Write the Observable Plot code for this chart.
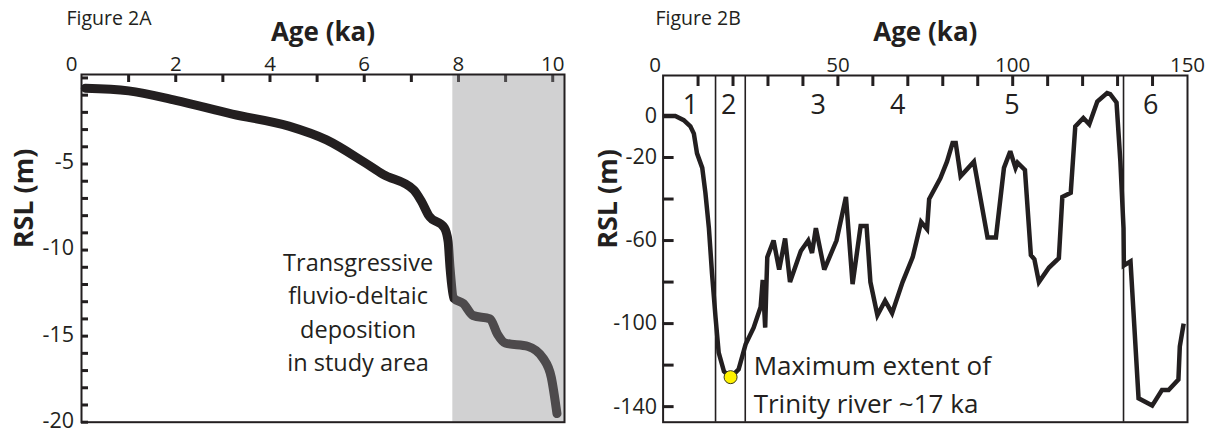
<!DOCTYPE html>
<html><head><meta charset="utf-8">
<script src="https://cdn.jsdelivr.net/npm/d3@7"></script>
<script src="https://cdn.jsdelivr.net/npm/@observablehq/plot@0.6"></script>
<style>
body{margin:0;background:#fff;width:1217px;height:432px;overflow:hidden;font-family:"Open Sans",sans-serif}
#wrap{position:relative;width:1217px;height:432px}
#a,#b{position:absolute;top:0}
#a{left:0}#b{left:600px}
svg{overflow:visible}
</style></head><body><div id="wrap"><div id="a"></div><div id="b"></div></div>
<script>
// ---------- Figure 2A data ----------
const ageA = [0.08,1.0,2.0,3.2,4.4,5.2,6.0,6.4,7.05,7.21,7.37,7.70,7.78,7.82,7.90,8.10,8.31,8.67,8.83,8.99,9.48,9.80,9.97,10.09];
const rslA = [-0.6,-0.75,-1.3,-2.1,-2.8,-3.6,-4.9,-5.6,-6.5,-7.15,-8.0,-8.7,-9.5,-11.0,-12.8,-13.1,-13.8,-14.0,-14.9,-15.4,-15.6,-16.3,-17.4,-19.5];
const xLabelsA = [0,2,4,6,8,10];
const xTicksA = [1,2,3,4,5,6,7,8,9,10];
const yLabelsA = [-5,-10,-15,-20];
const yTicksA = [0,-1,-2,-3,-4,-5,-6,-7,-8,-9,-10,-11,-12,-13,-14,-15,-16,-17,-18,-19,-20];
const depositionStart = [7.88];
const depositionEnd = [10.25];
const noteA = ["Transgressive\nfluvio-deltaic\ndeposition\nin study area"];
const noteAAge = [5.87];
const noteARsl = [-13.5];

// ---------- Figure 2B data ----------
const ageB = [0,3.5,5.9,7.8,8.8,9.7,11.2,12.1,13.1,14,15,15.9,17.4,19.3,21.6,23.6,25.9,27.9,28.5,29.2,29.5,29.8,31.6,33.2,34.9,36.3,39.4,41.5,42.6,43.7,46.1,49.6,52.3,54.2,56.5,58.2,59.3,61.3,63.5,65.5,68.5,71.4,73.8,75.5,76.1,79.3,81.2,82.8,83.7,85.1,88.9,92.8,95.2,97.5,99.3,100.8,101.4,103.5,105.2,106.2,107.5,110.4,113.2,114.2,116.6,117.9,120.2,121.9,124.2,127,127.9,129.7,130.8,131.7,131.8,133.7,136,139.9,142.7,144.6,147.4,147.8,148.9];
const rslB = [0,0,-2,-5,-8.5,-18,-25,-37,-54,-76,-97,-114,-123,-126,-122,-110,-102,-92,-79,-102,-84,-68,-60,-74,-59,-80,-65,-60,-66,-54,-74,-60,-39,-81,-53,-53,-80,-96,-89,-95,-80,-68,-51,-54.5,-40,-30,-22,-13,-13,-29,-22,-58.5,-58.5,-25,-17,-25,-22.5,-26,-67,-69,-80,-73,-68.5,-39,-37,-5,-1,-4,7,11,10.5,6.5,-22,-54,-72,-70,-136,-139.5,-132,-132,-127,-111,-100];
const xLabelsB = [0,50,100,150];
const xTicksB = [10,20,30,40,50,60,70,80,90,100,110,120,130,140];
const yLabelsB = [0,-20,-60,-100,-140];
const yTicksB = [0,-20,-40,-60,-80,-100,-120,-140];
const stageBounds = [15,23.5,131.7];
const stageNames = ["1","2","3","4","5","6"];
const stageAge = [7.8,18.8,44.4,67.1,99.8,139.5];
const maxAge = [19.3];
const maxRsl = [-125.8];
const noteB = ["Maximum extent of\nTrinity river ~17 ka"];
const noteBAge = [25.9];
const noteBRsl = [-128];

const ink = "#231f20";
const font = '"Open Sans", sans-serif';

// ---------- Panel A ----------
const WA = 600, HA = 432, mlA = 81, mrA = 36, mtA = 74, mbA = 10.3;
const fwA = WA - mlA - mrA, fhA = HA - mtA - mbA;
const dataA = ageA.map((a, i) => ({age: a, rsl: rslA[i]}));
const shade = depositionStart.map((s, i) => ({x1: s, x2: depositionEnd[i]}));

const plotA = Plot.plot({
  width: WA, height: HA,
  marginLeft: mlA, marginRight: mrA, marginTop: mtA, marginBottom: mbA,
  style: {fontFamily: font, background: "transparent", overflow: "visible", color: ink},
  x: {domain: [0, 10.25], axis: null},
  y: {domain: [-20, 0.2], axis: null},
  marks: [
    Plot.line(dataA, {x: "age", y: "rsl", stroke: ink, strokeWidth: 9, curve: "monotone-x", strokeLinecap: "round", strokeLinejoin: "round"}),
    Plot.tickX(xTicksA, {x: d => d, stroke: ink, strokeWidth: 3, insetBottom: fhA - 8}),
    Plot.tickY(yTicksA, {y: d => d, stroke: ink, strokeWidth: 3, insetRight: fwA - 7}),
    Plot.rect(shade, {x1: "x1", x2: "x2", fill: "#8b8d8f", fillOpacity: 0.4}),
    Plot.frame({stroke: ink, strokeWidth: 2}),
    Plot.text(xLabelsA.filter(d => d !== 0), {x: d => d, text: d => String(d), frameAnchor: "top", lineAnchor: "bottom", dy: -4, fontSize: 20.5, fill: ink}),
    Plot.text(xLabelsA.filter(d => d === 0), {x: d => d, text: d => String(d), frameAnchor: "top", lineAnchor: "bottom", dy: -4, dx: -10, fontSize: 20.5, fill: ink}),
    Plot.text(yLabelsA, {y: d => d, text: d => String(d), frameAnchor: "left", textAnchor: "end", lineAnchor: "middle", dx: -7.5, dy: -1.5, fontSize: 21.5, fill: ink}),
    Plot.text(["Age (ka)"], {frameAnchor: "top", dy: -42, lineAnchor: "middle", fontSize: 26, fontWeight: "bold", fill: ink}),
    Plot.text(["Figure 2A"], {frameAnchor: "top-left", textAnchor: "start", lineAnchor: "middle", dx: -15, dy: -56, fontSize: 19.5, fill: ink}),
    Plot.text(["RSL (m)"], {frameAnchor: "left", rotate: -90, dx: -57, lineAnchor: "middle", fontSize: 27, fontWeight: "bold", fill: ink}),
    Plot.text(noteA, {x: () => noteAAge[0], y: () => noteARsl[0], lineAnchor: "middle", lineHeight: 1.42, fontSize: 23.5, fill: ink})
  ]
});
document.getElementById("a").append(plotA);

// ---------- Panel B ----------
const WB = 617, HB = 432, mlB = 62.6, mrB = 30, mtB = 75, mbB = 10.3;
const fwB = WB - mlB - mrB, fhB = HB - mtB - mbB;
const dataB = ageB.map((a, i) => ({age: a, rsl: rslB[i]}));
const stages = stageNames.map((n, i) => ({name: n, age: stageAge[i]}));
const maxPt = maxAge.map((a, i) => ({age: a, rsl: maxRsl[i]}));

const plotB = Plot.plot({
  width: WB, height: HB,
  marginLeft: mlB, marginRight: mrB, marginTop: mtB, marginBottom: mbB,
  style: {fontFamily: font, background: "transparent", overflow: "visible", color: ink},
  x: {domain: [0, 150], axis: null},
  y: {domain: [-147.5, 19.5], axis: null},
  marks: [
    Plot.ruleX(stageBounds, {x: d => d, stroke: ink, strokeWidth: 1.6}),
    Plot.line(dataB, {x: "age", y: "rsl", stroke: ink, strokeWidth: 4.5, curve: "linear", strokeLinejoin: "miter", strokeMiterlimit: 3, strokeLinecap: "butt"}),
    Plot.tickX(xTicksB, {x: d => d, stroke: ink, strokeWidth: 3, insetBottom: fhB - 11}),
    Plot.tickY(yTicksB, {y: d => d, stroke: ink, strokeWidth: 3, insetRight: fwB - 11}),
    Plot.dot(maxPt, {x: "age", y: "rsl", r: 6.5, fill: "#fff200", stroke: "#3a3a1a", strokeWidth: 1}),
    Plot.frame({stroke: ink, strokeWidth: 2}),
    Plot.text(stages, {x: "age", text: "name", frameAnchor: "top", lineAnchor: "middle", dy: 30, fontSize: 27, fill: ink}),
    Plot.text(xLabelsB.filter(d => d !== 0), {x: d => d, text: d => String(d), frameAnchor: "top", lineAnchor: "bottom", dy: -4, fontSize: 20.5, fill: ink}),
    Plot.text(xLabelsB.filter(d => d === 0), {x: d => d, text: d => String(d), frameAnchor: "top", lineAnchor: "bottom", dy: -4, dx: -8, fontSize: 20.5, fill: ink}),
    Plot.text(yLabelsB, {y: d => d, text: d => String(d), frameAnchor: "left", textAnchor: "end", lineAnchor: "middle", dx: -6, fontSize: 21.5, fill: ink}),
    Plot.text(["Age (ka)"], {frameAnchor: "top", dy: -43, lineAnchor: "middle", fontSize: 26, fontWeight: "bold", fill: ink}),
    Plot.text(["Figure 2B"], {frameAnchor: "top-left", textAnchor: "start", lineAnchor: "middle", dx: -7.6, dy: -57, fontSize: 19.5, fill: ink}),
    Plot.text(["RSL (m)"], {frameAnchor: "left", rotate: -90, dx: -55, lineAnchor: "middle", fontSize: 27, fontWeight: "bold", fill: ink}),
    Plot.text(noteB, {x: () => noteBAge[0], y: () => noteBRsl[0], textAnchor: "start", lineAnchor: "middle", lineHeight: 1.46, fontSize: 26, fill: ink})
  ]
});
document.getElementById("b").append(plotB);
</script>
</body></html>
